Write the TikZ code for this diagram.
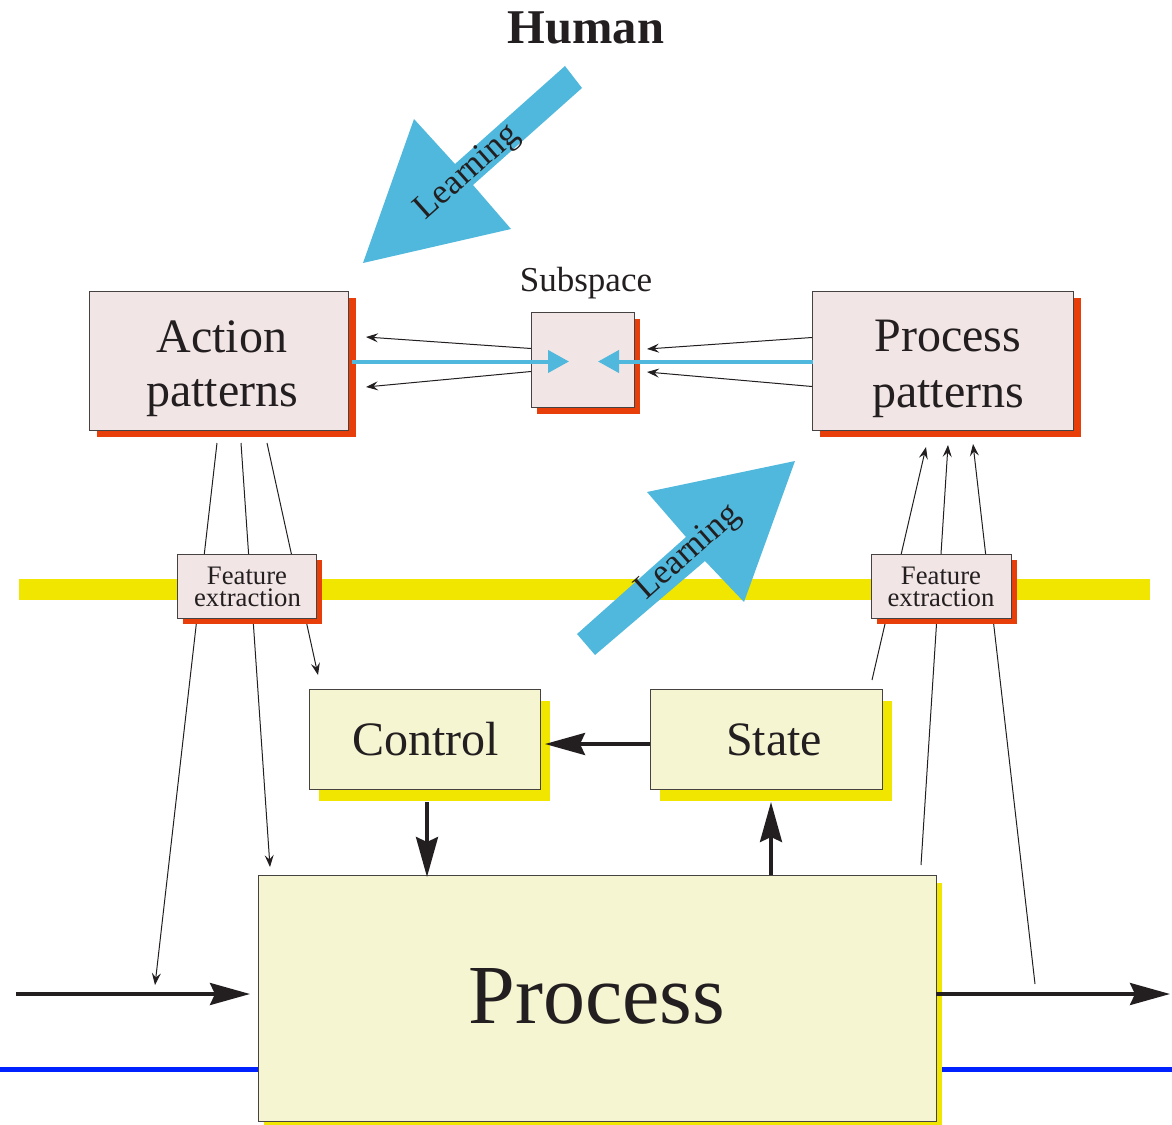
\documentclass[tikz,border=0pt]{standalone}
\usepackage{fontspec}
\setmainfont{Liberation Serif}
\usetikzlibrary{arrows.meta,shadows}
\definecolor{pinkf}{RGB}{242,229,229}
\definecolor{redsh}{RGB}{232,62,10}
\definecolor{yelf}{RGB}{245,245,210}
\definecolor{yelsh}{RGB}{240,230,0}
\definecolor{lblue}{RGB}{80,184,220}
\definecolor{dblue}{RGB}{0,34,255}
\definecolor{ink}{RGB}{35,31,32}
\definecolor{edgec}{RGB}{70,66,66}
\begin{document}
\begin{tikzpicture}[x=1pt,y=-1pt,
  every node/.style={text=ink,inner sep=0pt,outer sep=0pt},
  pinkbox/.style={draw=edgec,line width=0.9pt,fill=pinkf},
  yelbox/.style={draw=edgec,line width=0.9pt,fill=yelf},
  redshA/.style={drop shadow={shadow xshift=8pt,shadow yshift=-7pt,fill=redsh,opacity=1}},
  redshB/.style={drop shadow={shadow xshift=6pt,shadow yshift=-7pt,fill=redsh,opacity=1}},
  redshC/.style={drop shadow={shadow xshift=6pt,shadow yshift=-6pt,fill=redsh,opacity=1}},
  yelshA/.style={drop shadow={shadow xshift=10pt,shadow yshift=-12pt,fill=yelsh,opacity=1}},
  yelshB/.style={drop shadow={shadow xshift=6pt,shadow yshift=-8pt,fill=yelsh,opacity=1}},
  bigtxt/.style={font=\fontsize{48}{53}\selectfont},
  midtxt/.style={font=\fontsize{35}{38}\selectfont},
  smalltxt/.style={font=\fontsize{26.7}{22}\selectfont},
  hugetxt/.style={font=\fontsize{84}{90}\selectfont},
  thinar/.style={draw=ink,line width=1pt,-{Stealth[length=12pt,width=9pt,inset=4.5pt]}},
  thickar/.style={draw=ink,line width=3.5pt,-{Stealth[length=40pt,width=22pt,inset=5pt]}},
  bluear/.style={draw=lblue,line width=4pt,-{Triangle[length=21pt,width=22pt]}}
]
\useasboundingbox (0,0) rectangle (1172,1124);

% background bands
\fill[yelsh] (19,579) rectangle (1150,600);
\draw[dblue,line width=5pt] (0,1069) -- (258,1069);
\draw[dblue,line width=5pt] (942,1069) -- (1172,1069);

% learning arrows
\fill[lblue] (565,66) -- (455,164) -- (414,119) -- (363,263) -- (511,229) -- (473,185) -- (582,88) -- cycle;
\node[midtxt,rotate=41.6] (learn1) at (468,173) {Learning};
\fill[lblue] (577,634) -- (686,537) -- (647,492) -- (795,461) -- (744,602) -- (705,561) -- (595,655) -- cycle;
\node[midtxt,rotate=41.6] (learn2) at (689,553) {Learning};

% coordinates for thin connectors
\coordinate (a1s) at (217,443); \coordinate (a1e) at (155,985);
\coordinate (a2s) at (241,443); \coordinate (a2e) at (270,867);
\coordinate (a3s) at (267,443); \coordinate (a3e) at (318,675);
\coordinate (p1s) at (872,680); \coordinate (p1e) at (926,447);
\coordinate (p2s) at (921,865); \coordinate (p2e) at (948,445);
\coordinate (p3s) at (1035,984); \coordinate (p3e) at (973,444);
\draw[thinar] (a1s) -- (a1e);
\draw[thinar] (a2s) -- (a2e);
\draw[thinar] (a3s) -- (a3e);
\draw[thinar] (p1s) -- (p1e);
\draw[thinar] (p2s) -- (p2e);
\draw[thinar] (p3s) -- (p3e);

% boxes
\node[pinkbox,redshA,minimum width=259pt,minimum height=139pt] (act) at (218.5,360.5) {};
\node[pinkbox,redshB,minimum width=103pt,minimum height=95pt] (sub) at (582.5,359.5) {};
\node[pinkbox,redshA,minimum width=261pt,minimum height=139pt] (ppat) at (942.5,360.5) {};
\node[pinkbox,redshC,minimum width=139pt,minimum height=64pt] (fe1) at (246.5,586) {};
\node[pinkbox,redshC,minimum width=140pt,minimum height=64pt] (fe2) at (941,586) {};
\node[yelbox,yelshA,minimum width=231pt,minimum height=100pt] (ctrl) at (424.5,739) {};
\node[yelbox,yelshA,minimum width=232pt,minimum height=100pt] (state) at (766,739) {};
\node[yelbox,yelshB,minimum width=678pt,minimum height=246pt] (proc) at (597,998) {};

% texts
\node[font=\bfseries\fontsize{48.5}{53}\selectfont,anchor=base] (human) at (586,44) {Human};
\node[midtxt,anchor=base] (subT) at (586,291) {Subspace};
\node[bigtxt,anchor=base] (actT1) at (222,352.7) {Action};
\node[bigtxt,anchor=base] (actT2) at (222,406.7) {patterns};
\node[bigtxt,anchor=base] (ppT1) at (948,351) {Process};
\node[bigtxt,anchor=base] (ppT2) at (948,407) {patterns};
\node[smalltxt,anchor=base] (fe1T1) at (247,584) {Feature};
\node[smalltxt,anchor=base] (fe1T2) at (247.5,606) {extraction};
\node[smalltxt,anchor=base] (fe2T1) at (941,584) {Feature};
\node[smalltxt,anchor=base] (fe2T2) at (941,606) {extraction};
\node[bigtxt,anchor=base] (ctrlT) at (425.5,755) {Control};
\node[bigtxt,anchor=base] (stateT) at (774,755) {State};
\node[hugetxt,anchor=base] (procT) at (597,1023) {Process};

% top connectors
\coordinate (sL) at (569,361.5);
\coordinate (sR) at (598,361.5);
\draw[bluear] ([xshift=4pt,yshift=-1pt]act.east) -- (sL);
\draw[bluear] ([xshift=1pt,yshift=-1pt]ppat.west) -- (sR);
\coordinate (t1) at (366,337); \coordinate (t2) at (366,387);
\coordinate (t3) at (647,349); \coordinate (t4) at (647,372);
\draw[thinar] ([yshift=11pt]sub.west) -- (t1);
\draw[thinar] ([yshift=-12pt]sub.west) -- (t2);
\draw[thinar] ([yshift=23pt]ppat.west) -- (t3);
\draw[thinar] ([yshift=-26pt]ppat.west) -- (t4);

% thick connectors
\coordinate (inS) at (16,994); \coordinate (inE) at (250,994);
\coordinate (outS) at (936,994); \coordinate (outE) at (1170,994);
\coordinate (c1) at (427,802); \coordinate (c2) at (427,877);
\coordinate (s1) at (771,875); \coordinate (s2) at (771,802);
\coordinate (sc1) at (650,744); \coordinate (sc2) at (545,744);
\draw[thickar] (inS) -- (inE);
\draw[thickar] (outS) -- (outE);
\draw[thickar] (c1) -- (c2);
\draw[thickar] (s1) -- (s2);
\draw[thickar] (sc1) -- (sc2);
\end{tikzpicture}
\end{document}
